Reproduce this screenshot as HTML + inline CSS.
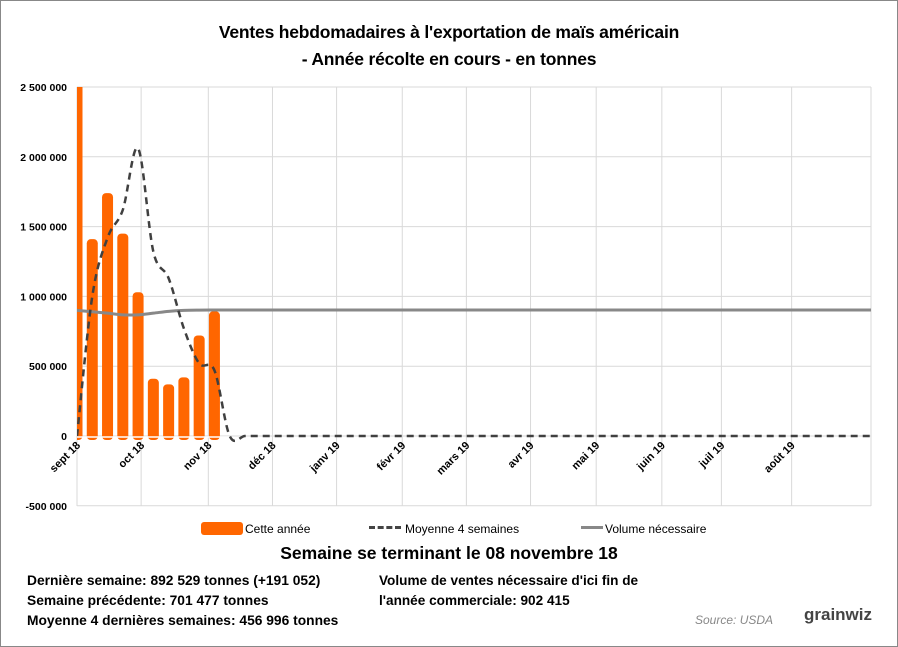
<!DOCTYPE html>
<html><head><meta charset="utf-8"><style>
body{margin:0;background:#fff;}
#wrap{position:relative;width:896px;height:645px;border:1px solid #888;font-family:"Liberation Sans",sans-serif;overflow:hidden;}
.t{position:absolute;white-space:nowrap;color:#000;}
</style></head><body>
<div id="wrap">
<div class="t" style="left:0;width:896px;text-align:center;top:18px;font-size:17.5px;font-weight:bold;line-height:27px;letter-spacing:-0.2px;">Ventes hebdomadaires à l'exportation de maïs américain<br>- Année récolte en cours - en tonnes</div>
<svg id="chart" width="898" height="520" style="position:absolute;left:0;top:0"></svg>
<div class="t" style="left:200px;top:521px;font-size:12px;"><span style="display:inline-block;width:42px;height:13px;background:#ff6600;border-radius:3px;vertical-align:-2px;margin-right:2px"></span>Cette année</div>
<div class="t" style="left:368px;top:521px;font-size:12px;"><span style="display:inline-block;width:32px;border-top:3px dashed #444;vertical-align:4px;margin-right:4px"></span>Moyenne 4 semaines</div>
<div class="t" style="left:580px;top:521px;font-size:12px;"><span style="display:inline-block;width:22px;border-top:3px solid #888;vertical-align:4px;margin-right:2px"></span>Volume nécessaire</div>
<div class="t" style="left:0;width:896px;text-align:center;top:542px;font-size:17.5px;font-weight:bold;">Semaine se terminant le 08 novembre 18</div>
<div class="t" style="left:26px;top:570px;font-size:13.8px;font-weight:bold;line-height:20px;">Dernière semaine: 892 529 tonnes (+191 052)<br>Semaine précédente: 701 477 tonnes<br>Moyenne 4 dernières semaines: 456 996 tonnes</div>
<div class="t" style="left:378px;top:570px;font-size:13.6px;font-weight:bold;line-height:20px;">Volume de ventes nécessaire d'ici fin de<br>l'année commerciale: 902 415</div>
<div class="t" style="left:694px;top:612px;font-size:12px;font-style:italic;color:#888;">Source:  USDA</div>
<div class="t" style="left:803px;top:604px;font-size:17px;font-weight:bold;color:#444;">grainwiz</div>
</div>
<script>
const yTicks=[2500000,2000000,1500000,1000000,500000,0,-500000];
const yLabels=["2 500 000","2 000 000","1 500 000","1 000 000","500 000","0","-500 000"];
const months=["sept 18","oct 18","nov 18","déc 18","janv 19","févr 19","mars 19","avr 19","mai 19","juin 19","juil 19","août 19"];
const monthX=[0,4.2,8.6,12.8,17,21.3,25.5,29.7,34,38.3,42.2,46.8];
const weekly=[2600000,1410000,1740000,1450000,1030000,410000,370000,420000,720000,892529];
const avg4=[0,1000000,1420000,1620000,2060000,1320000,1130000,770000,520000,470000,0,0,0,0,0,0,0,0,0,0,0,0,0,0,0,0,0,0,0,0,0,0,0,0,0,0,0,0,0,0,0,0,0,0,0,0,0,0,0,0,0,0,0];
const needed=[900000,890000,880000,868000,868000,880000,893000,900000,902000,902415,902415,902415,902415,902415,902415,902415,902415,902415,902415,902415,902415,902415,902415,902415,902415,902415,902415,902415,902415,902415,902415,902415,902415,902415,902415,902415,902415,902415,902415,902415,902415,902415,902415,902415,902415,902415,902415,902415,902415,902415,902415,902415,902415];
const svg=document.getElementById('chart');const NS='http://www.w3.org/2000/svg';
const x0=76,x1=870,wk=15.27;
const X=i=>x0+i*wk;
const Y=v=>435-v/1000000*139.6;
function mk(t,a,p){const e=document.createElementNS(NS,t);for(const k in a)e.setAttribute(k,a[k]);(p||svg).appendChild(e);return e;}
yTicks.forEach((v,i)=>{
 const l=mk('line',{x1:x0,x2:x1,y1:Y(v),y2:Y(v),stroke:'#d9d9d9','stroke-width':1});
 
 
 const t=mk('text',{x:66,y:Y(v)+4,'text-anchor':'end','font-size':'10.5','font-weight':'bold','font-family':'Liberation Sans, sans-serif'});
 t.textContent=yLabels[i];
 
 
});
months.forEach((m,i)=>{
 const x=X(monthX[i]);
 const l=mk('line',{x1:x,x2:x,y1:86,y2:505,stroke:'#d9d9d9','stroke-width':1});
 
 
 const t=mk('text',{x:x+4,y:445,'text-anchor':'end','font-size':'11','font-weight':'bold','font-family':'Liberation Sans, sans-serif',transform:`rotate(-45 ${x+4} 445)`});
 t.textContent=m;
 
 
});
const lx=mk('line',{x1:x1,x2:x1,y1:86,y2:505,stroke:'#d9d9d9'});


mk('clipPath',{id:'cp'});
mk('rect',{x:x0,y:86,width:x1-x0,height:420},svg.lastChild);
const g=mk('g',{'clip-path':'url(#cp)'});
weekly.forEach((v,i)=>{
 const top=Math.max(Y(v),80);
 const r=mk('rect',{x:X(i)-5.5,y:top,width:11,height:439-top,rx:4,fill:'#ff6600'},g);
 
 
});
const w=mk('line',{x1:x0,x2:X(weekly.length),y1:436,y2:436,stroke:'#fff','stroke-width':1.5},g);


function smooth(vals){
 const p=vals.map((v,i)=>[X(i),Y(v)]);
 let d=`M${p[0][0]},${p[0][1]}`;
 for(let i=0;i<p.length-1;i++){const a=p[i-1]||p[i],b=p[i],c=p[i+1],e=p[i+2]||c;
  d+=` C${b[0]+(c[0]-a[0])/6},${b[1]+(c[1]-a[1])/6} ${c[0]-(e[0]-b[0])/6},${c[1]-(e[1]-b[1])/6} ${c[0]},${c[1]}`;}
 return d;}
const n=mk('path',{d:smooth(needed),fill:'none',stroke:'#888','stroke-width':3},g);


const a=mk('path',{d:smooth(avg4),fill:'none',stroke:'#404040','stroke-width':2.5,'stroke-dasharray':'7,5'},g);


</script>
</body></html>
